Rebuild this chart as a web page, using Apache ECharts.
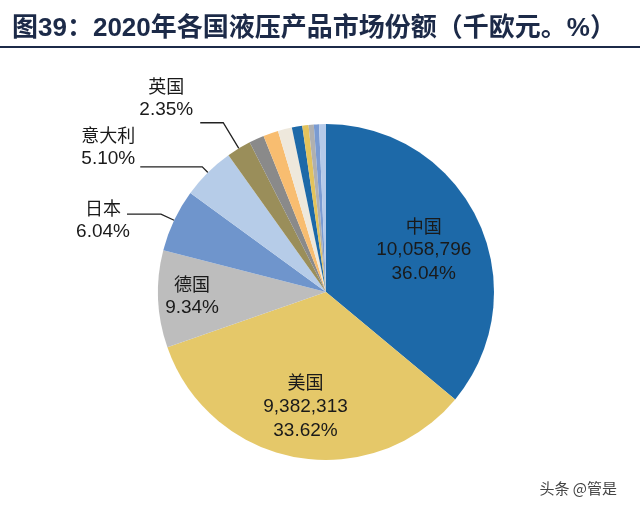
<!DOCTYPE html>
<html><head><meta charset="utf-8">
<script src="https://cdn.jsdelivr.net/npm/echarts@6/dist/echarts.min.js"></script>
<style>html,body{margin:0;padding:0;background:#fff}#c{width:640px;height:514px}</style>
</head><body><div id="c"></div>
<script>
// ---- data ----
const titleText = '图39：2020年各国液压产品市场份额（千欧元。%）';
const categories = ['中国', '美国', '德国', '日本', '意大利', '英国', '其他1', '其他2', '其他3', '其他4', '其他5', '其他6', '其他7', '其他8'];
const shares = [36.04, 33.62, 9.34, 6.04, 5.10, 2.35, 1.45, 1.45, 1.35, 1.00, 0.60, 0.50, 0.50, 0.66];
const amounts = [10058796, 9382313, null, null, null, null, null, null, null, null, null, null, null, null];
const labelled = ['中国', '美国', '德国', '日本', '意大利', '英国'];
const insideLabelled = ['中国', '美国', '德国'];
const watermark = '头条 @管是';

// ---- styles ----
const colors = ['#1D69A8', '#E5C869', '#BDBDBD', '#6F95CC', '#B6CCE8', '#9A8E5A', '#8A8A8A', '#F8BD70', '#EEE8DC', '#1D69A8', '#E3C35C', '#B0B0B0', '#7A9BD2', '#B5CAE9'];
const labelOffsets = { '中国': [19, -5], '美国': [-5, 29], '德国': [-47, 0], '日本': [8, 6], '意大利': [0, -20], '英国': [-2, -25] };
const lineLens = { '日本': [14.5, 34], '意大利': [8, 62], '英国': [30, 23] };

const cjk = '"Noto Sans CJK SC", sans-serif';
const latin = '"Liberation Sans", Arial, sans-serif';

const data = categories.map((name, i) => {
  const show = labelled.includes(name);
  const inside = insideLabelled.includes(name);
  const item = {
    name, value: shares[i],
    itemStyle: { color: colors[i] },
    label: { show },
    labelLine: { show: show && !inside }
  };
  if (show) {
    item.label.position = inside ? 'inside' : 'outside';
    item.label.offset = labelOffsets[name];
    if (!inside) {
      item.labelLine.length = lineLens[name][0];
      item.labelLine.length2 = lineLens[name][1];
    }
  }
  return item;
});

const chart = echarts.init(document.getElementById('c'), null, { renderer: 'canvas' });
chart.setOption({
  animation: false,
  backgroundColor: '#ffffff',
  title: [{
    text: titleText, left: 7, top: 11,
    textStyle: { fontFamily: '"Liberation Sans", "Noto Sans CJK SC", sans-serif', fontSize: 26, fontWeight: 'bold', color: '#1C2A48' }
  }, {
    text: watermark, right: 18, bottom: 13,
    textStyle: { fontFamily: cjk, fontSize: 15, fontWeight: 'normal', color: '#444' }
  }],
  graphic: [{
    type: 'line', shape: { x1: 0, y1: 47, x2: 640, y2: 47 },
    style: { stroke: '#1C2A48', lineWidth: 2 }
  }],
  series: [{
    type: 'pie',
    center: [326, 292],
    radius: 168,
    startAngle: 90,
    clockwise: true,
    avoidLabelOverlap: false,
    emphasis: { disabled: true },
    label: {
      color: '#1a1a1a',
      distanceToLabelLine: 5,
      formatter: (p) => {
        const i = p.dataIndex;
        const pct = shares[i].toFixed(2) + '%';
        if (amounts[i] != null) {
          return '{n|' + p.name + '}\n{v|' + amounts[i].toLocaleString('en-US') + '}\n{v|' + pct + '}';
        }
        return '{n|' + p.name + '}\n{v|' + pct + '}';
      },
      rich: {
        n: { fontFamily: cjk, fontSize: 18, lineHeight: 24, color: '#1a1a1a', align: 'center' },
        v: { fontFamily: latin, fontSize: 19, lineHeight: 24, color: '#1a1a1a', align: 'center' }
      }
    },
    labelLine: { lineStyle: { color: '#222', width: 1.3 } },
    data
  }]
});
</script>
</body></html>
